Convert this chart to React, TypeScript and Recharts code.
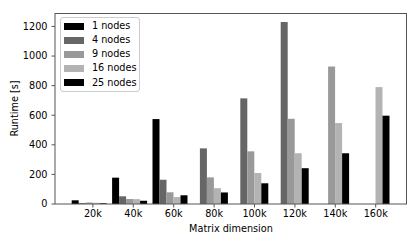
/**
 * Runtime vs matrix dimension, grouped by node count.
 * Matplotlib-style grouped bars: ticks sit between the 9- and 16-node bars,
 * done with an empty sixth slot per group.
 */

import { BarChart, Bar, XAxis, YAxis, Legend } from 'recharts';

const dims = ['20k', '40k', '60k', '80k', '100k', '120k', '140k', '160k'];
const nodes1 = [25, 178, 574, null, null, null, null, null];
const nodes4 = [6, 52, 164, 376, 714, 1230, null, null];
const nodes9 = [10, 33, 79, 180, 356, 576, 930, null];
const nodes16 = [8, 33, 47, 107, 209, 343, 547, 790];
const nodes25 = [5, 22, 59, 78, 140, 242, 343, 597];
const yTicks = [0, 200, 400, 600, 800, 1000, 1200];

const FONT = '"DejaVu Sans", sans-serif';
const SPINE = '#555555';

const series = [
  { key: 'n1', name: '1 nodes', color: '#000000', values: nodes1 },
  { key: 'n4', name: '4 nodes', color: '#666666', values: nodes4 },
  { key: 'n9', name: '9 nodes', color: '#999999', values: nodes9 },
  { key: 'n16', name: '16 nodes', color: '#b3b3b3', values: nodes16 },
  { key: 'n25', name: '25 nodes', color: '#000000', values: nodes25 },
];

const data = dims.map((dim, i) => {
  const row: Record<string, string | number | null> = { dim };
  series.forEach((s) => {
    row[s.key] = s.values[i];
  });
  return row;
});

// legend keeps the series order (recharts would sort it by name)
function LegendBox() {
  return (
    <div
      style={{
        width: 80,
        height: 75,
        boxSizing: 'border-box',
        border: '1px solid #cccccc',
        borderRadius: 3,
        background: 'rgba(255,255,255,0.8)',
        padding: '1px 0 0 3px',
        fontFamily: FONT,
      }}
    >
      {series.map((s) => (
        <div key={s.key} style={{ display: 'flex', alignItems: 'center', height: 14.15 }}>
          <span style={{ display: 'inline-block', width: 19.5, height: 7, background: s.color, marginRight: 8.4 }} />
          <span style={{ fontSize: 9.7, lineHeight: '14px', color: '#000' }}>{s.name}</span>
        </div>
      ))}
    </div>
  );
}

const xLabel = ({ viewBox }: any) => (
  <text x={viewBox.x + viewBox.width / 2} y={232} textAnchor="middle" fontSize={9.7} fontFamily={FONT} fill="#000">
    Matrix dimension
  </text>
);

const yLabel = ({ viewBox }: any) => {
  const cx = viewBox.x + 14;
  const cy = viewBox.y + viewBox.height / 2;
  return (
    <text
      x={cx}
      y={cy}
      transform={`rotate(-90 ${cx} ${cy})`}
      textAnchor="middle"
      dominantBaseline="central"
      fontSize={9.7}
      fontFamily={FONT}
      fill="#000"
    >
      Runtime [s]
    </text>
  );
};

export default function App() {
  const tickStyle = { fontSize: 9.7, fill: '#000', fontFamily: FONT };
  return (
    <div style={{ position: 'absolute', left: 0, top: 0, width: 420, height: 245, background: '#fff', fontFamily: FONT }}>
      <BarChart
        width={420}
        height={245}
        data={data}
        margin={{ top: 13, right: 13, bottom: 0, left: 0 }}
        barGap={0}
        barCategoryGap={-1}
      >
        <XAxis
          dataKey="dim"
          height={41}
          padding={{ left: 17.7, right: 11.1 }}
          tick={tickStyle}
          tickSize={3.5}
          tickMargin={2.5}
          axisLine={{ stroke: SPINE }}
          tickLine={{ stroke: SPINE }}
          interval={0}
          label={{ content: xLabel }}
        />
        <YAxis
          width={55}
          domain={[0, 1291]}
          ticks={yTicks}
          allowDataOverflow
          tick={tickStyle}
          tickSize={3.5}
          tickMargin={4}
          axisLine={{ stroke: SPINE }}
          tickLine={{ stroke: SPINE }}
          label={{ content: yLabel }}
        />
        <Legend
          layout="vertical"
          align="center"
          verticalAlign="middle"
          content={<LegendBox />}
          wrapperStyle={{ left: 60, top: 17, width: 80, height: 75 }}
        />
        {series.map((s) => (
          <Bar key={s.key} dataKey={s.key} name={s.name} fill={s.color} isAnimationActive={false} />
        ))}
        <Bar dataKey="pad" legendType="none" fill="none" isAnimationActive={false} />
      </BarChart>
      {/* top and right spines of the plot frame */}
      <div
        style={{
          position: 'absolute',
          left: 55,
          top: 12.5,
          width: 352,
          height: 191,
          boxSizing: 'border-box',
          borderTop: `1px solid ${SPINE}`,
          borderRight: `1px solid ${SPINE}`,
          pointerEvents: 'none',
        }}
      />
    </div>
  );
}
